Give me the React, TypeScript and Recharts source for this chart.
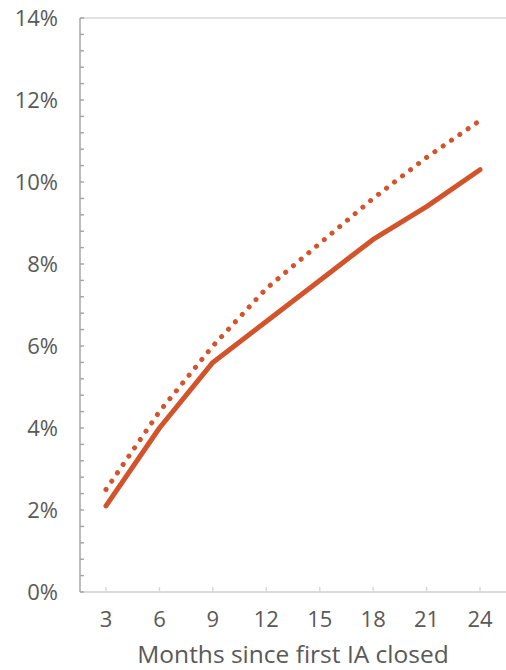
import { LineChart, Line, XAxis, YAxis, CartesianGrid } from 'recharts'

const months = ['3', '6', '9', '12', '15', '18', '21', '24']
const actual = [2.1, 4.0, 5.6, 6.6, 7.6, 8.6, 9.4, 10.3]
const projected = [2.5, 4.4, 6.0, 7.4, 8.5, 9.6, 10.6, 11.5]
const majorTicks = [0, 2, 4, 6, 8, 10, 12, 14]
const minorTicks = Array.from({ length: 36 }, (_, i) => Math.round(i * 4) / 10)

const ORANGE = '#D2542B'
const LABEL = '#595959'
const FONT = '"Open Sans", sans-serif'

const data = months.map((m, i) => ({ month: m, actual: actual[i], projected: projected[i] }))

// y ticks: small inward mark on every minor step, label on the 2% steps
const YTick = (props: any) => {
  const { x, y, payload } = props
  const v = payload.value
  const major = Math.round(v * 10) % 20 === 0
  return (
    <g>
      <line x1={x} x2={x + 4} y1={y} y2={y} stroke="#a6a6a6" strokeWidth={1.5} />
      {major && (
        <text x={x - 22} y={y} dy="0.355em" textAnchor="end" fill={LABEL} fontSize={22} fontFamily={FONT}>
          {`${v}%`}
        </text>
      )}
    </g>
  )
}

const XTick = (props: any) => {
  const { x, y, payload } = props
  return (
    <g>
      <line x1={x} x2={x} y1={y - 5} y2={y} stroke="#d9d9d9" strokeWidth={1.5} />
      <text x={x} y={y + 19} dy="0.71em" textAnchor="middle" fill={LABEL} fontSize={22} fontFamily={FONT}>
        {payload.value}
      </text>
    </g>
  )
}

export default function App() {
  return (
    <div style={{ position: 'absolute', left: 0, top: 0, fontFamily: FONT }}>
      <LineChart width={506} height={670} data={data} margin={{ top: 18, right: 0, bottom: 0, left: 0 }}>
        <CartesianGrid vertical={false} yAxisId="grid" stroke="#d9d9d9" strokeWidth={1.5} />
        <XAxis
          dataKey="month"
          padding={{ left: 26, right: 26 }}
          height={78}
          axisLine={{ stroke: '#d9d9d9', strokeWidth: 1.5 }}
          tickLine={false}
          tickSize={0}
          tickMargin={0}
          tick={<XTick />}
          label={{ value: 'Months since first IA closed', position: 'insideBottom', offset: 7, fill: LABEL, fontSize: 24.5, fontFamily: FONT }}
        />
        <YAxis yAxisId="grid" hide domain={[0, 14]} ticks={majorTicks} />
        <YAxis
          width={80}
          domain={[0, 14]}
          ticks={minorTicks}
          interval={0}
          axisLine={{ stroke: '#a6a6a6', strokeWidth: 1.5 }}
          tickLine={false}
          tickSize={0}
          tickMargin={0}
          tick={<YTick />}
        />
        <Line
          dataKey="projected"
          stroke={ORANGE}
          strokeWidth={5}
          strokeDasharray="0.1 10"
          strokeLinecap="round"
          dot={false}
          isAnimationActive={false}
        />
        <Line
          dataKey="actual"
          stroke={ORANGE}
          strokeWidth={5}
          strokeLinecap="round"
          strokeLinejoin="round"
          dot={false}
          isAnimationActive={false}
        />
      </LineChart>
    </div>
  )
}
